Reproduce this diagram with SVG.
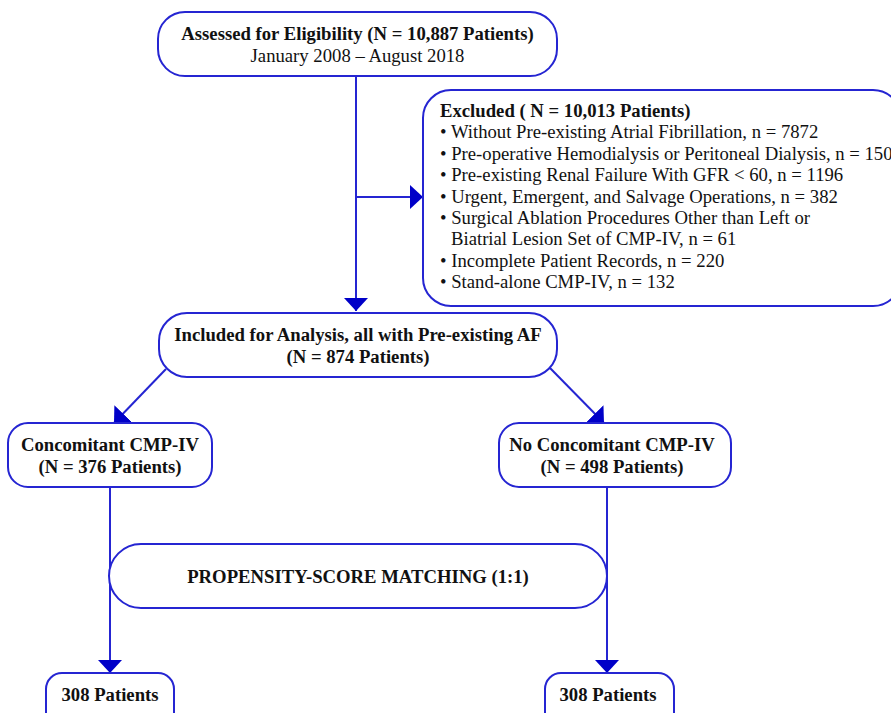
<svg xmlns="http://www.w3.org/2000/svg" width="891" height="713" viewBox="0 0 891 713">
<style>
.box{fill:#ffffff;stroke:#2525d2;stroke-width:2}
.con{fill:none;stroke:#2525d2;stroke-width:2}
text{font-family:"Liberation Serif","Times New Roman",serif;font-size:18.7px;fill:#111111}
.b{font-weight:bold}
.c{text-anchor:middle}
</style>
<defs>
<marker id="ah" markerUnits="userSpaceOnUse" viewBox="0 0 13 24" refX="13" refY="12" markerWidth="13" markerHeight="24" orient="auto">
<path d="M0,0 L13,12 L0,24 Z" fill="#0000c8"/>
</marker>
</defs>
<g id="connectors">
<path class="con" d="M356,76 V311" marker-end="url(#ah)"/>
<path class="con" d="M356,197 H423" marker-end="url(#ah)"/>
<path class="con" d="M166,369 L114,423" marker-end="url(#ah)"/>
<path class="con" d="M550,368 L604,423" marker-end="url(#ah)"/>
<path class="con" d="M110,487 V673" marker-end="url(#ah)"/>
<path class="con" d="M607,487 V673" marker-end="url(#ah)"/>
</g>
<g id="assessed">
<rect class="box" x="158" y="12" width="399" height="64" rx="27"/>
<text class="b c" x="357.5" y="40">Assessed for Eligibility (N = 10,887 Patients)</text>
<text class="c" x="357.5" y="62">January 2008 – August 2018</text>
</g>
<g id="excluded">
<rect class="box" x="423" y="90" width="478" height="216" rx="28"/>
<text class="b" x="440" y="117">Excluded ( N = 10,013 Patients)</text>
<text x="440" y="138.4">• Without Pre-existing Atrial Fibrillation, n = 7872</text>
<text x="440" y="159.8">• Pre-operative Hemodialysis or Peritoneal Dialysis, n = 150</text>
<text x="440" y="181.2">• Pre-existing Renal Failure With GFR &lt; 60, n = 1196</text>
<text x="440" y="202.6">• Urgent, Emergent, and Salvage Operations, n = 382</text>
<text x="440" y="224">• Surgical Ablation Procedures Other than Left or</text>
<text x="451" y="245.4">Biatrial Lesion Set of CMP-IV, n = 61</text>
<text x="440" y="266.8">• Incomplete Patient Records, n = 220</text>
<text x="440" y="288.2">• Stand-alone CMP-IV, n = 132</text>
</g>
<g id="included">
<rect class="box" x="159" y="313" width="398" height="64" rx="28"/>
<text class="b c" x="358" y="341">Included for Analysis, all with Pre-existing AF</text>
<text class="b c" x="358" y="363">(N = 874 Patients)</text>
</g>
<g id="concomitant">
<rect class="box" x="8" y="423" width="204" height="64" rx="20"/>
<text class="b c" x="110" y="451">Concomitant CMP-IV</text>
<text class="b c" x="110" y="473">(N = 376 Patients)</text>
</g>
<g id="no-concomitant">
<rect class="box" x="499" y="423" width="232" height="64" rx="20"/>
<text class="b c" x="612" y="451">No Concomitant CMP-IV</text>
<text class="b c" x="612" y="473">(N = 498 Patients)</text>
</g>
<g id="psm">
<rect class="box" x="109" y="544" width="498" height="64" rx="32"/>
<text class="b c" x="358" y="583">PROPENSITY-SCORE MATCHING (1:1)</text>
</g>
<g id="matched-left">
<rect class="box" x="46" y="673" width="128" height="60" rx="16"/>
<text class="b c" x="110" y="701">308 Patients</text>
</g>
<g id="matched-right">
<rect class="box" x="545" y="673" width="129" height="60" rx="16"/>
<text class="b c" x="608" y="701">308 Patients</text>
</g>
</svg>
